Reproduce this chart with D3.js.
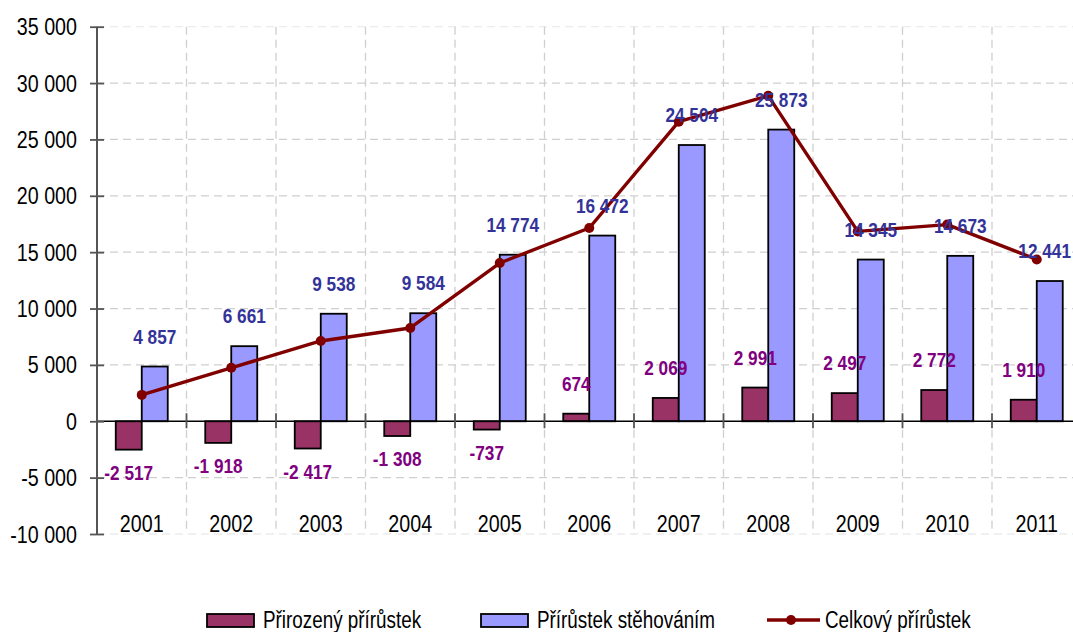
<!DOCTYPE html>
<html><head><meta charset="utf-8">
<script src="https://cdn.jsdelivr.net/npm/d3@7"></script>
<style>
html,body{margin:0;padding:0;background:#fff;}
svg text{font-family:'Liberation Sans',Arial,sans-serif;}
</style></head>
<body><svg id="c" width="1073" height="632"></svg>
<script>
const years = ["2001","2002","2003","2004","2005","2006","2007","2008","2009","2010","2011"];
const natural = [-2517,-1918,-2417,-1308,-737,674,2069,2991,2497,2772,1910];
const migration = [4857,6661,9538,9584,14774,16472,24504,25873,14345,14673,12441];
const total = [2340,4743,7121,8276,14037,17146,26573,28864,16842,17445,14351];
const yTicks = [-10000,-5000,0,5000,10000,15000,20000,25000,30000,35000];
const seriesNames = ["Přirozený přírůstek","Přírůstek stěhováním","Celkový přírůstek"];

const colNat = "#993366", colMig = "#9999FF", colTot = "#800000";
const lblNat = "#800080", lblMig = "#333399";
const SX = 0.82; // narrow font emulation

const svg = d3.select("#c");
const left = 97, band = 89.5;
const x = d3.scaleBand().domain(years).range([left, left + band*years.length]).padding(0);
const y = d3.scaleLinear().domain([-10000,35000]).range([534, 26.7]);
const fmt = v => { const s = Math.abs(v).toString().replace(/\B(?=(\d{3})+(?!\d))/g," "); return (v<0?"-":"")+s; };
const barW = 26;
const sub = d3.scaleBand().domain(["n","m"]).range([-barW, barW]).padding(0);
const cx = d => x(d) + x.bandwidth()/2;
function ntext(g, px, py, str){
  return g.append("text").attr("transform",`translate(${px},${py}) scale(${SX},1)`).text(str);
}

const right = left + band*years.length;
// horizontal gridlines
svg.append("g").selectAll("line").data(yTicks.filter(v=>v!==0)).join("line")
  .attr("x1", left).attr("x2", right)
  .attr("y1", d=>y(d)).attr("y2", d=>y(d))
  .attr("stroke", d => (d===35000||d===-10000) ? "#ececec" : "#cfcfcf")
  .attr("stroke-width", 1.3).attr("stroke-dasharray","8,5");
// vertical gridlines
svg.append("g").selectAll("line").data(d3.range(1, years.length+1)).join("line")
  .attr("x1", i=> left + band*i).attr("x2", i=> left + band*i)
  .attr("y1", y(35000)).attr("y2", y(-10000))
  .attr("stroke","#cfcfcf").attr("stroke-width",1.3).attr("stroke-dasharray","8,5");

// bars
const gb = svg.append("g");
years.forEach((yr,i)=>{
  [["n",natural[i],colNat],["m",migration[i],colMig]].forEach(([k,v,c])=>{
    gb.append("rect")
      .attr("x", cx(yr) + sub(k))
      .attr("width", sub.bandwidth())
      .attr("y", y(Math.max(0,v)))
      .attr("height", Math.abs(y(v)-y(0)))
      .attr("fill", c).attr("stroke","#000").attr("stroke-width",1.8);
  });
});

// zero line
svg.append("line").attr("x1",left).attr("x2",right).attr("y1",y(0)).attr("y2",y(0))
  .attr("stroke","#000").attr("stroke-width",1.5);
// category ticks on zero line
svg.append("g").selectAll("line").data(d3.range(years.length+1)).join("line")
  .attr("x1", i=>left+band*i).attr("x2", i=>left+band*i)
  .attr("y1", y(0)-8).attr("y2", y(0)+7)
  .attr("stroke","#555").attr("stroke-width",1.8);

// y axis
const yAxis = d3.axisLeft(y).tickValues(yTicks).tickSize(7).tickFormat(fmt);
const ga = svg.append("g").attr("transform",`translate(${left},0)`).call(yAxis);
ga.select(".domain").remove();
ga.append("line").attr("x1",0).attr("x2",0).attr("y1",y(35000)).attr("y2",y(-10000))
  .attr("stroke","#555").attr("stroke-width",2);
ga.selectAll(".tick line").attr("x1",-7).attr("x2",7).attr("stroke","#555").attr("stroke-width",1.8);
ga.selectAll(".tick text").attr("x",null).attr("dy",null).attr("y",null)
  .attr("transform",`translate(-20,8) scale(${SX},1)`)
  .attr("font-size",24).attr("fill","#000")
  .style("font-family","'Liberation Sans',Arial,sans-serif");

// x labels
const gx = svg.append("g").attr("font-size",24).attr("text-anchor","middle").attr("fill","#000");
years.forEach(yr => ntext(gx, cx(yr), 532, yr));

// total line
const line = d3.line().x((d,i)=>cx(years[i])).y(d=>y(d));
svg.append("path").datum(total).attr("d",line).attr("fill","none")
  .attr("stroke",colTot).attr("stroke-width",3.4).attr("stroke-linejoin","round");
svg.append("g").selectAll("circle").data(total).join("circle")
  .attr("cx",(d,i)=>cx(years[i])).attr("cy",d=>y(d)).attr("r",5).attr("fill",colTot);

// data labels
const gl = svg.append("g").attr("font-weight","bold").attr("font-size",21).attr("text-anchor","middle");
function clampLabel(t, px, py){
  const w = t.node().getComputedTextLength()*SX;
  const nx = Math.min(px, 1071 - w/2);
  t.attr("transform",`translate(${nx},${py}) scale(${SX},1)`);
}
years.forEach((yr,i)=>{
  const vn = natural[i], vm = migration[i];
  const pn = cx(yr)+sub("n")+barW/2, yn = vn>=0 ? y(vn)-23 : y(vn)+30;
  clampLabel(ntext(gl, pn, yn, fmt(vn)).attr("fill", lblNat), pn, yn);
  const pm = cx(yr)+sub("m")+barW/2, ym = y(vm)-23;
  clampLabel(ntext(gl, pm, ym, fmt(vm)).attr("fill", lblMig), pm, ym);
});

// legend
const lg = svg.append("g").attr("font-size",23).attr("fill","#000");
const ly = 620;
lg.append("rect").attr("x",207).attr("y",ly-6).attr("width",47).attr("height",13)
  .attr("fill",colNat).attr("stroke","#000").attr("stroke-width",1.8);
ntext(lg, 263, ly+8, seriesNames[0]);
lg.append("rect").attr("x",481).attr("y",ly-6).attr("width",47).attr("height",13)
  .attr("fill",colMig).attr("stroke","#000").attr("stroke-width",1.8);
ntext(lg, 537, ly+8, seriesNames[1]);
lg.append("line").attr("x1",767).attr("x2",820).attr("y1",ly).attr("y2",ly)
  .attr("stroke",colTot).attr("stroke-width",3.4);
lg.append("circle").attr("cx",791).attr("cy",ly).attr("r",5).attr("fill",colTot);
ntext(lg, 825, ly+8, seriesNames[2]);
</script></body></html>
